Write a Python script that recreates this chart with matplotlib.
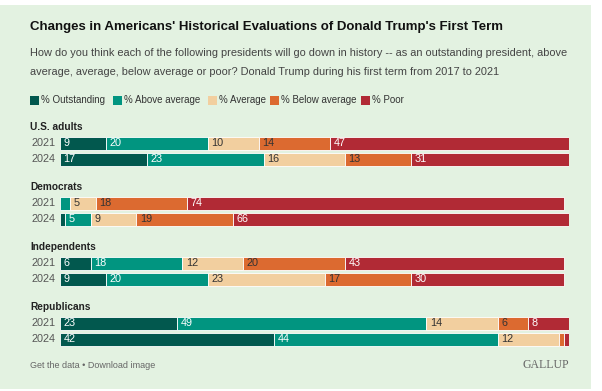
import matplotlib.pyplot as plt
from matplotlib.patches import Rectangle

# data
groups = ["U.S. adults", "Democrats", "Independents", "Republicans"]
years = ["2021", "2024"]
categories = ["% Outstanding", "% Above average", "% Average", "% Below average", "% Poor"]

outstanding = [9, 17, 0, 1, 6, 9, 23, 42]
above_avg = [20, 23, 2, 5, 18, 20, 49, 44]
average = [10, 16, 5, 9, 12, 23, 14, 12]
below_avg = [14, 13, 18, 19, 20, 17, 6, 1]
poor = [47, 31, 74, 66, 43, 30, 8, 1]

colors = ["#02584e", "#019580", "#f2cf9f", "#dc6a30", "#b12a35"]
text_colors = ["white", "white", "#333333", "#333333", "white"]

W, H = 602, 391
BG = "#e3f2e1"
fam = ["Liberation Sans", "DejaVu Sans"]

fig = plt.figure(figsize=(W / 100, H / 100), dpi=100)
fig.patch.set_facecolor("white")
fig.patches.append(Rectangle((0, 1 - 389 / H), 591 / W, 384 / H,
                             transform=fig.transFigure, facecolor=BG,
                             edgecolor="none", zorder=-1))


def fx(px):
    return px / W


def fy(py):
    return 1 - py / H


# title, subtitle
fig.text(fx(30), fy(27), "Changes in Americans' Historical Evaluations of Donald Trump's First Term",
         fontsize=9.5, fontweight="bold", family=fam, color="#111111", va="center")
fig.text(fx(30), fy(53), "How do you think each of the following presidents will go down in history -- as an outstanding president, above",
         fontsize=7.95, family=fam, color="#444444", va="center")
fig.text(fx(30), fy(72), "average, average, below average or poor? Donald Trump during his first term from 2017 to 2021",
         fontsize=7.95, family=fam, color="#444444", va="center")

# legend
leg_x = [30, 113, 208, 270, 361]
for lx, cat, c in zip(leg_x, categories, colors):
    fig.patches.append(Rectangle((fx(lx), fy(105)), fx(9), 9 / H,
                                 transform=fig.transFigure, facecolor=c,
                                 edgecolor="none"))
    fig.text(fx(lx + 11), fy(100.5), cat, fontsize=7.0, family=fam,
             color="#333333", va="center")

# bars
ax = fig.add_axes([fx(60), 0, 509 / W, 1])
ax.set_xlim(0, 100)
ax.set_ylim(H, 0)
ax.axis("off")

series = [outstanding, above_avg, average, below_avg, poor]
bar_h = 13
for g, name in enumerate(groups):
    y0 = 143 + g * 60
    fig.text(fx(30), fy(y0 - 16), name, fontsize=7.3, fontweight="bold",
             family=fam, color="#222222", va="center")
    for r, yr in enumerate(years):
        i = g * 2 + r
        y = y0 + r * 16.5
        fig.text(fx(31), fy(y), yr, fontsize=7.8, family=fam,
                 color="#555555", va="center")
        left = 0
        for s, c, tc in zip(series, colors, text_colors):
            v = s[i]
            if v > 0:
                ax.barh(y, v, left=left, height=bar_h, color=c,
                        edgecolor="white", linewidth=0.6)
                if v >= 3:
                    ax.text(left + 0.7, y, str(v), fontsize=7.8, family=fam,
                            color=tc, va="center", ha="left")
            left += v

# footer
fig.text(fx(30), fy(365), "Get the data \u2022 Download image", fontsize=6.5,
         family=fam, color="#666666", va="center")
fig.text(fx(569), fy(365), "GALLUP", fontsize=8.5, family=["Liberation Serif", "DejaVu Serif"],
         color="#666666", va="center", ha="right")

fig.savefig("out.png", dpi=100, facecolor=fig.get_facecolor())
